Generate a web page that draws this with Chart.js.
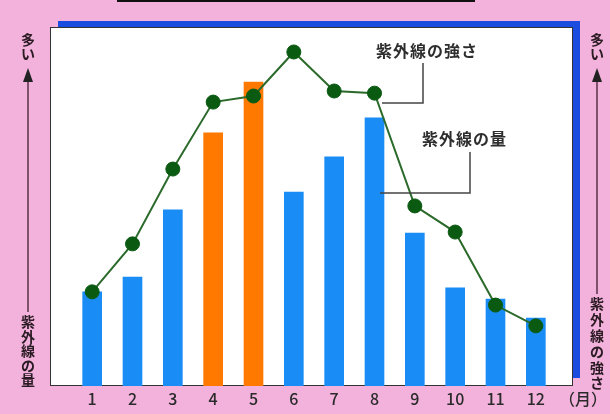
<!DOCTYPE html>
<html>
<head>
<meta charset="utf-8">
<script src="https://cdn.jsdelivr.net/npm/chart.js@4"></script>
<style>
  html, body { margin: 0; padding: 0; background: #f2b2dc; }
  #wrap { width: 610px; height: 414px; }
</style>
</head>
<body>
<div id="wrap"><canvas id="uvChart" width="610" height="414"></canvas></div>
<script>
const months = ['1', '2', '3', '4', '5', '6', '7', '8', '9', '10', '11', '12'];
const uvAmount = [26.3, 30.4, 49.2, 70.7, 84.9, 54.2, 64.0, 74.9, 42.7, 27.4, 24.3, 19.0];
const uvStrength = [26.3, 39.7, 60.6, 79.3, 81.0, 93.3, 82.4, 81.8, 50.3, 43.0, 22.6, 16.8];
const highlightMonths = ['4', '5'];

const blue = '#1a8cf5';
const orange = '#ff7800';
const jpFont = '"Noto Sans CJK JP", "Noto Sans", sans-serif';

const barColors = months.map(m => highlightMonths.includes(m) ? orange : blue);

// pink page, blue shadow frame, white panel
const panelPlugin = {
    id: 'panel',
    beforeDraw(chart) {
        const ctx = chart.ctx;
        ctx.save();
        ctx.fillStyle = '#f2b2dc';
        ctx.fillRect(0, 0, chart.width, chart.height);

        ctx.fillStyle = '#1b4ce0';
        ctx.fillRect(58, 21, 522, 357);

        ctx.fillStyle = '#ffffff';
        ctx.fillRect(50, 27, 523, 359);
        ctx.strokeStyle = '#333333';
        ctx.lineWidth = 1;
        ctx.strokeRect(50.5, 27.5, 522, 358);

        ctx.strokeStyle = '#111111';
        ctx.lineWidth = 2;
        ctx.beginPath();
        ctx.moveTo(117, 1);
        ctx.lineTo(475, 1);
        ctx.stroke();
        ctx.restore();
    }
};

function verticalText(ctx, chars, x, y0, step) {
    chars.split('').forEach((c, i) => {
        ctx.fillText(c, x, y0 + i * step);
    });
}

function sideArrow(ctx, x, top, bottom) {
    ctx.fillStyle = '#222222';
    ctx.beginPath();
    ctx.moveTo(x, top);
    ctx.lineTo(x - 5, top + 14);
    ctx.lineTo(x + 5, top + 14);
    ctx.closePath();
    ctx.fill();
    ctx.strokeStyle = '#5a3048';
    ctx.lineWidth = 1.5;
    ctx.beginPath();
    ctx.moveTo(x, top + 14);
    ctx.lineTo(x, bottom);
    ctx.stroke();
}

const labelPlugin = {
    id: 'labels',
    afterDraw(chart) {
        const ctx = chart.ctx;
        const xScale = chart.scales.x;
        ctx.save();

        // month labels
        ctx.fillStyle = '#2a2a2a';
        ctx.font = '500 16px ' + jpFont;
        ctx.textAlign = 'center';
        ctx.textBaseline = 'middle';
        months.forEach((m, i) => {
            ctx.fillText(m, xScale.getPixelForTick(i), 399);
        });
        ctx.fillText('（月）', 583, 399);

        // side captions
        ctx.font = 'bold 14px ' + jpFont;
        ctx.fillStyle = '#2a1a22';
        verticalText(ctx, '多い', 28, 40, 14);
        verticalText(ctx, '紫外線の量', 28, 322, 14.5);
        verticalText(ctx, '多い', 597, 40, 14);
        verticalText(ctx, '紫外線の強さ', 597, 304, 15.8);
        sideArrow(ctx, 28, 68, 312);
        sideArrow(ctx, 597, 68, 294);

        // callouts
        ctx.fillStyle = '#2e2e2e';
        ctx.font = 'bold 16px ' + jpFont;
        ctx.textAlign = 'left';
        ctx.letterSpacing = '1px';
        ctx.fillText('紫外線の強さ', 376, 51);
        ctx.fillText('紫外線の量', 422, 139);
        ctx.letterSpacing = '0px';

        ctx.strokeStyle = '#444444';
        ctx.lineWidth = 1.5;
        ctx.beginPath();
        ctx.moveTo(423, 63);
        ctx.lineTo(423, 103);
        ctx.lineTo(382, 103);
        ctx.moveTo(470, 152);
        ctx.lineTo(470, 193);
        ctx.lineTo(380, 193);
        ctx.stroke();

        ctx.restore();
    }
};

new Chart(document.getElementById('uvChart'), {
    data: {
        labels: months,
        datasets: [
            {
                type: 'line',
                label: '紫外線の強さ',
                data: uvStrength,
                borderColor: '#2b6a2b',
                borderWidth: 2,
                pointRadius: 7,
                pointBackgroundColor: '#0b5a12',
                pointBorderColor: '#0b5a12',
                pointBorderWidth: 1,
                tension: 0,
                order: 0
            },
            {
                type: 'bar',
                label: '紫外線の量',
                data: uvAmount,
                backgroundColor: barColors,
                barThickness: 19,
                order: 1
            }
        ]
    },
    options: {
        responsive: false,
        animation: false,
        layout: {
            padding: { left: 72, right: 54, top: 28, bottom: 28 }
        },
        plugins: {
            legend: { display: false },
            tooltip: { enabled: false }
        },
        scales: {
            x: { display: false },
            y: { display: false, min: 0, max: 100 }
        }
    },
    plugins: [panelPlugin, labelPlugin]
});
</script>
</body>
</html>
